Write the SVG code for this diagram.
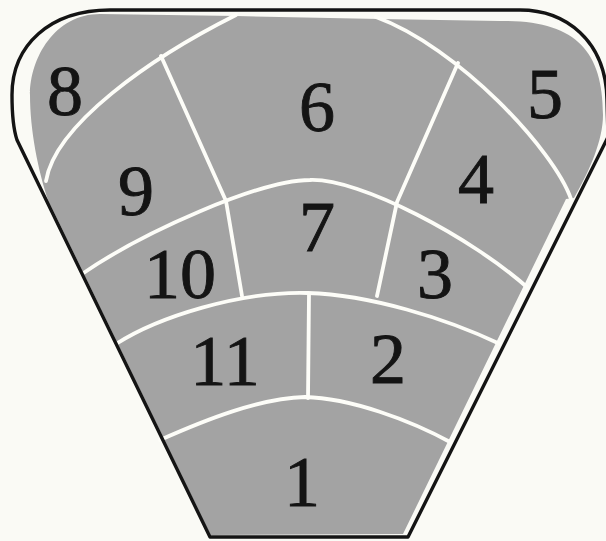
<svg xmlns="http://www.w3.org/2000/svg" width="606" height="541" viewBox="0 0 606 541">
<style>
.bg{fill:#fafaf5}
.field{fill:#a3a3a3}
.div{fill:none;stroke:#fdfdf8;stroke-width:3.8;stroke-linecap:round;stroke-linejoin:round}
.outline{fill:none;stroke:#141414;stroke-width:3.4;stroke-linejoin:round}
.lbl{font-family:"Liberation Serif","Times New Roman",serif;font-size:72px;fill:#141414;stroke:#141414;stroke-width:0.9;text-anchor:middle}
</style>
<rect class="bg" x="0" y="0" width="606" height="541"/>
<path id="field" class="field" d="M 100,14 L 236,16 L 380,19 L 500,21 C 575,20 603,50 603,115 C 603,140 590,170 574,198 L 566,199 L 403,534 L 210.5,535 L 48,200 C 38,170 30,130 30,95 C 30,58 55,14 100,14 Z"/>
<g id="connectors">
<path class="div" d="M 46,181 C 55,125 150,58 236,15"/>
<path class="div" d="M 376,17 C 458,47 554,150 571,199"/>
<path class="div" d="M 161,56 L 226,201 L 242,296"/>
<path class="div" d="M 458,63 L 397,202 L 377,296"/>
<path class="div" d="M 82,274 C 143,232 260,180 310,180 C 360,178 472,238 528,288"/>
<path class="div" d="M 116,344 C 158,317 240,291 308,293 C 370,295 445,318 500,344"/>
<path class="div" d="M 160,440 C 205,420 260,398 305,397 C 350,398 410,420 452,443"/>
<path class="div" d="M 309,294 L 308,398"/>
</g>
<path id="outline" class="outline" d="M 110,10 L 520,10 C 565,10 606,40 607,100 L 608,137 L 408,537 L 210,537 L 17,140 C 13,128 12,112 12,95 C 12,45 50,10 110,10 Z"/>
<g id="region-1"><text class="lbl" x="302" y="506">1</text></g>
<g id="region-2"><text class="lbl" x="388" y="383">2</text></g>
<g id="region-3"><text class="lbl" x="435" y="298">3</text></g>
<g id="region-4"><text class="lbl" x="476" y="203">4</text></g>
<g id="region-5"><text class="lbl" x="545" y="118">5</text></g>
<g id="region-6"><text class="lbl" x="317" y="131">6</text></g>
<g id="region-7"><text class="lbl" x="317" y="251">7</text></g>
<g id="region-8"><text class="lbl" x="65" y="115">8</text></g>
<g id="region-9"><text class="lbl" x="136" y="215">9</text></g>
<g id="region-10"><text class="lbl" x="180" y="298">10</text></g>
<g id="region-11"><text class="lbl" x="225" y="385">11</text></g>
</svg>
